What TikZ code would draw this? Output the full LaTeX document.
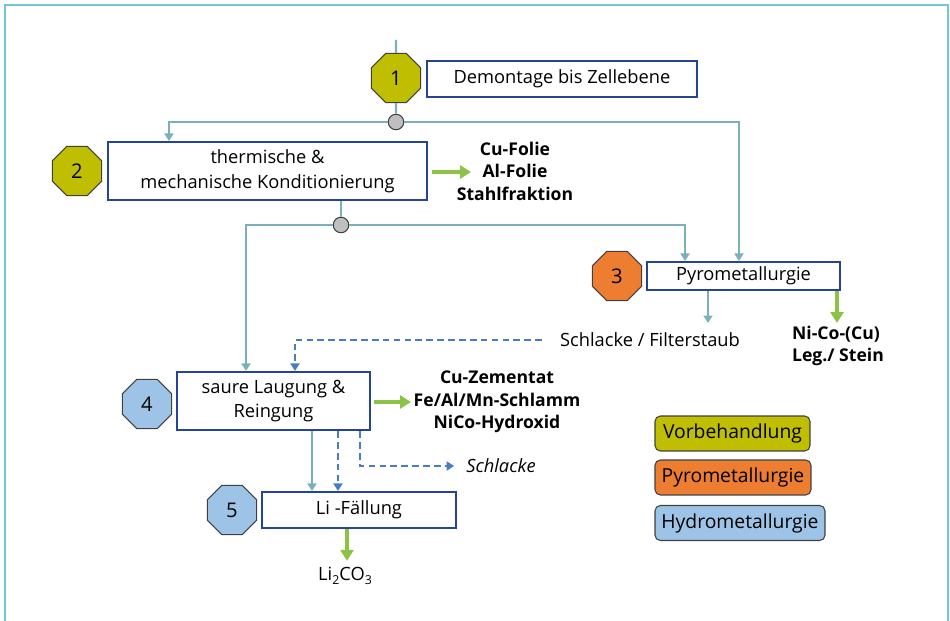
\documentclass[tikz,border=0pt]{standalone}
\usepackage{fontspec}
\setmainfont{Open Sans}
\usetikzlibrary{arrows.meta,shapes.geometric,calc}

\definecolor{framecol}{RGB}{110,200,215}
\definecolor{flowcol}{RGB}{122,176,184}
\definecolor{boxcol}{RGB}{38,68,150}
\definecolor{dashcol}{RGB}{74,124,196}
\definecolor{outcol}{RGB}{140,195,70}
\definecolor{vorcol}{RGB}{192,190,0}
\definecolor{pyrocol}{RGB}{237,125,49}
\definecolor{hydrocol}{RGB}{157,195,230}

\begin{document}
\begin{tikzpicture}[x=0.02cm,y=-0.02cm,
  every node/.style={font=\fontsize{10.4}{12}\selectfont},
  stepbox/.style={draw=boxcol,line width=1.2pt,fill=white,align=center,
                  inner sep=2pt,font=\fontsize{10.4}{14}\selectfont},
  octa/.style={regular polygon,regular polygon sides=8,draw=black!75,
               line width=0.6pt,inner sep=0pt,minimum size=1.07cm,
               font=\fontsize{11.5}{13}\selectfont},
  legbox/.style={draw=black!75,line width=0.6pt,rounded corners=3pt,
                 minimum height=0.7cm,inner sep=2pt,
                 font=\fontsize{11}{13}\selectfont},
  junc/.style={circle,draw=black!75,fill=black!25,line width=0.6pt,
               inner sep=0pt,minimum size=0.31cm},
  outtxt/.style={align=center,font=\fontsize{10}{12.8}\selectfont\bfseries},
  flow/.style={draw=flowcol,line width=1.3pt},
  tarr/.style={flow,-{Triangle[length=1.5mm,width=1.8mm]}},
  darr/.style={draw=dashcol,line width=1.2pt,dash pattern=on 3.8pt off 2.4pt,
               -{Triangle[length=1.5mm,width=1.8mm]}},
  garr/.style={draw=outcol,line width=1.8pt,
               -{Triangle[length=2.2mm,width=2.6mm]}}
]
\useasboundingbox (0,0) rectangle (950,621);
\draw[framecol,line width=1.1pt] (5,621) -- (5,5) -- (948,5) -- (948,621);

% stage 1
\coordinate (in) at (396,40);
\node[octa,fill=vorcol] (o1) at (396,78) {1};
\node[stepbox,minimum width=5.4cm,minimum height=0.72cm] (b1) at (562,79)
  {Demontage bis Zellebene};
\node[junc] (j1) at (396,122) {};
\draw[flow] (in) -- (o1);
\draw[flow] (o1) -- (j1);

% stage 2
\node[octa,fill=vorcol] (o2) at (77,171) {2};
\node[stepbox,minimum width=6.38cm,minimum height=1.16cm] (b2) at (267.5,171)
  {thermische \&\\mechanische Konditionierung};
\node[outtxt] (foil) at (515,171) {Cu-Folie\\Al-Folie\\Stahlfraktion};
\coordinate (foilin) at (471,172);
\draw[tarr] (j1) -| ([xshift=1.24cm]b2.north west);
\draw[garr] ([xshift=0.08cm]b2.east |- foilin) -- (foilin);
\node[junc] (j2) at (341,225) {};
\draw[flow] (j2 |- b2.south) -- (j2);

% stage 3
\node[octa,fill=pyrocol] (o3) at (617,276) {3};
\node[stepbox,minimum width=3.86cm,minimum height=0.56cm] (pyro) at (743.5,276)
  {Pyrometallurgie};
\draw[tarr] (j1) -| ([xshift=-0.09cm]pyro.north);
\draw[tarr] (j2) -| ([xshift=-1.17cm]pyro.north);
\node (slag) at (650,340) {Schlacke / Filterstaub};
\node[outtxt,align=left] (nico) at (838,346) {Ni-Co-(Cu)\\Leg./ Stein};
\coordinate (slagin) at (708,323);
\coordinate (nicoin) at (837,323);
\draw[tarr] (slagin |- pyro.south) -- (slagin);
\draw[garr] (nicoin |- pyro.south) -- (nicoin);

% stage 4
\node[octa,fill=hydrocol] (o4) at (147,404) {4};
\node[stepbox,minimum width=3.86cm,minimum height=1.16cm] (b4) at (273.5,401)
  {saure Laugung \&\\Reingung};
\draw[tarr] (j2) -| ([xshift=-0.55cm]b4.north);
\draw[darr] ([xshift=-0.24cm]slag.west) -| ([xshift=0.43cm]b4.north);
\node[outtxt] (zem) at (497,402) {Cu-Zementat\\Fe/Al/Mn-Schlamm\\NiCo-Hydroxid};
\coordinate (zemin) at (411,402);
\draw[garr] ([xshift=0.06cm]b4.east |- zemin) -- (zemin);
\node[font=\fontsize{10.4}{12}\selectfont\itshape] (schl) at (501,466) {Schlacke};

% stage 5
\node[octa,fill=hydrocol] (o5) at (232,510) {5};
\node[stepbox,minimum width=3.88cm,minimum height=0.72cm] (b5) at (359,510)
  {Li -Fällung};
\draw[tarr] ([xshift=0.77cm]b4.south) -- ([xshift=0.77cm]b4.south |- b5.north);
\draw[darr] ([xshift=1.29cm]b4.south) -- ([xshift=1.29cm]b4.south |- b5.north);
\draw[darr] ([xshift=1.73cm]b4.south) |- ([xshift=-0.12cm]schl.west);
\node (li) at (345,576) {Li\raisebox{-0.45ex}{\scriptsize 2}CO\raisebox{-0.45ex}{\scriptsize 3}};
\draw[garr] ([xshift=-0.24cm]b5.south) -- ([xshift=-0.24cm]b5.south |- li.north);

% legend
\node[legbox,fill=vorcol,minimum width=3.1cm] (lv) at (732.5,433.5) {Vorbehandlung};
\node[legbox,fill=pyrocol,minimum width=3.12cm] (lp) at (733,477.5) {Pyrometallurgie};
\node[legbox,fill=hydrocol,minimum width=3.4cm] (lh) at (740,523) {Hydrometallurgie};
\end{tikzpicture}
\end{document}
